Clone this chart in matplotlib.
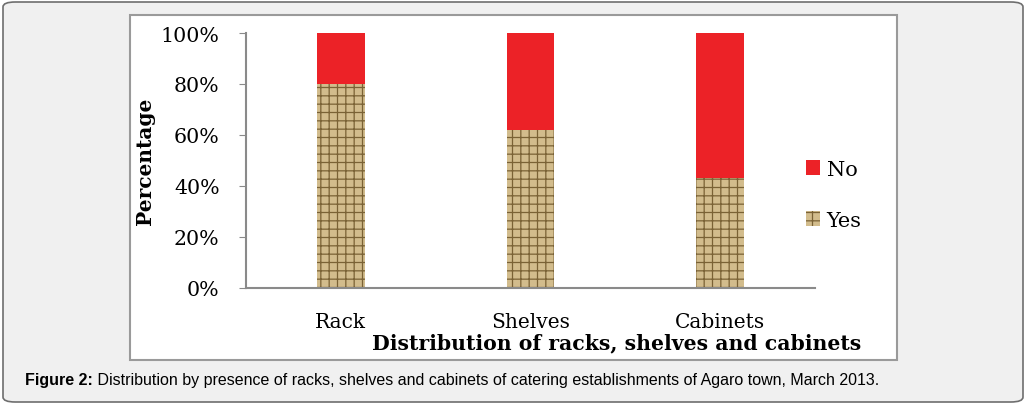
import matplotlib
matplotlib.use('Agg')
from matplotlib import pyplot as plt
from matplotlib.patches import FancyBboxPatch, Rectangle
import numpy as np

categories = ['Rack', 'Shelves', 'Cabinets']
yes_pct = [80, 62, 43]
no_pct = [20, 38, 57]
yticks = [0, 20, 40, 60, 80, 100]
caption_bold = 'Figure 2:'
caption_text = ' Distribution by presence of racks, shelves and cabinets of catering establishments of Agaro town, March 2013.'

W, H = 1026, 406
fig = plt.figure(figsize=(W / 100, H / 100), dpi=100)
fig.patch.set_facecolor('white')
plt.rcParams['hatch.linewidth'] = 0.9

# outer rounded panel
fig.patches.append(FancyBboxPatch((3 / W, 3 / H), 1020 / W, 400 / H,
                                  boxstyle='round,pad=0,rounding_size=0.012',
                                  transform=fig.transFigure, facecolor='#f0f0f0',
                                  edgecolor='#6e6e6e', linewidth=1.2, zorder=-10))
# inner white chart box
fig.patches.append(Rectangle((130 / W, (H - 361) / H), 767 / W, 345 / H,
                             transform=fig.transFigure, facecolor='white',
                             edgecolor='#9a9a9a', linewidth=1.5, zorder=-9))

ax = fig.add_axes([246 / W, 1 - 289 / H, (815 - 246) / W, (289 - 34) / H])
ax.set_facecolor('none')
x = np.arange(len(categories))
serif = ['DejaVu Serif']

ax.bar(x, yes_pct, width=0.25, color='#d2bc8c', edgecolor='#7a6235',
       hatch='++', linewidth=0, label='Yes')
ax.bar(x, no_pct, width=0.25, bottom=yes_pct, color='#ec2227', linewidth=0, label='No')

ax.set_xlim(-0.5, 2.5)
ax.set_ylim(0, 100)
ax.set_yticks(yticks)
ax.set_yticklabels([f'{v}%' for v in yticks], family=serif, fontsize=14.8)
ax.set_xticks(x)
ax.set_xticklabels(categories, family=serif, fontsize=14.5)
ax.tick_params(axis='x', length=0, pad=17)
ax.tick_params(axis='y', length=5, color='#8a8a8a', pad=14)
for s in ['top', 'right']:
    ax.spines[s].set_visible(False)
for s in ['left', 'bottom']:
    ax.spines[s].set_color('#8a8a8a')
    ax.spines[s].set_linewidth(1.5)

ax.set_ylabel('Percentage', family=serif, fontsize=14.5, fontweight='bold', labelpad=4)
fig.text(617 / W, 1 - 343 / H, 'Distribution of racks, shelves and cabinets',
         family=serif, fontsize=14.7, fontweight='bold', ha='center', va='center')

handles, labels = ax.get_legend_handles_labels()
leg = ax.legend(handles[::-1], labels[::-1], loc='center left',
                bbox_to_anchor=(0.984, 0.365), frameon=False,
                borderaxespad=0, borderpad=0,
                prop={'family': serif, 'size': 15}, handlelength=0.7,
                handleheight=0.7, labelspacing=1.55, handletextpad=0.3)

t = fig.text(25 / W, 1 - 381 / H, caption_bold, family='Liberation Sans',
             fontsize=11.5, fontweight='bold', va='center')
fig.canvas.draw()
bb = t.get_window_extent()
fig.text(bb.x1 / W, 1 - 381 / H, caption_text, family='Liberation Sans',
         fontsize=11.5, va='center')

fig.savefig('out.png', dpi=100)
